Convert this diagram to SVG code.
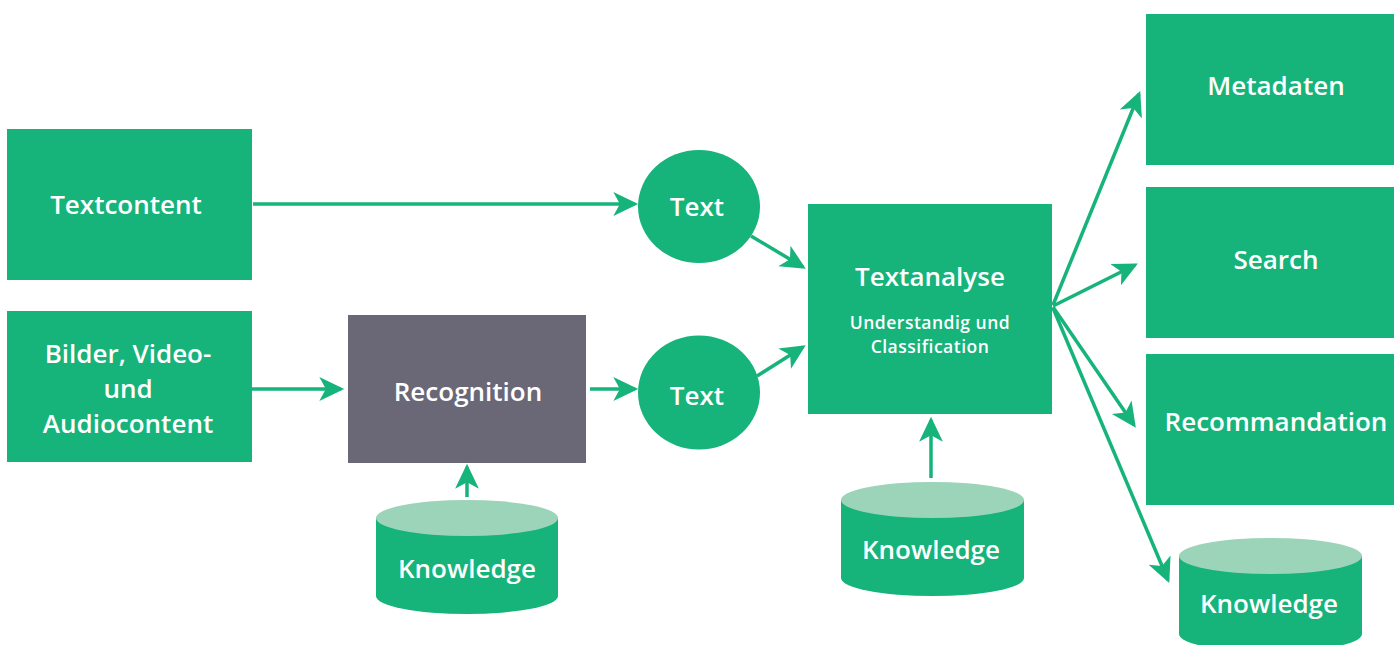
<svg xmlns="http://www.w3.org/2000/svg" width="1394" height="645" viewBox="0 0 1394 645">
  <style>
    .box { fill: #16b37b; }
    .proc { fill: #6a6876; }
    .top { fill: #9bd4b8; }
    .lbl { fill: #ffffff; font-family: "Open Sans", "Noto Sans", sans-serif; font-weight: 600; font-size: 26px; text-anchor: middle; }
    .sub { font-size: 17.5px; letter-spacing: 0.5px; }
    .edge { stroke: #16b37b; stroke-width: 3.5; fill: none; marker-end: url(#arrow); }
  </style>
  <defs>
    <marker id="arrow" markerUnits="userSpaceOnUse" markerWidth="26" markerHeight="26" viewBox="0 0 24 24" refX="20" refY="12" orient="auto">
      <path d="M0,1 L23,12 L0,23 L6,12 z" fill="#16b37b"/>
    </marker>
  </defs>

  <g id="connectors">
    <line class="edge" x1="253" y1="204" x2="635" y2="204"/>
    <line class="edge" x1="252" y1="389" x2="341" y2="389"/>
    <line class="edge" x1="590" y1="389" x2="635" y2="389"/>
    <line class="edge" x1="751" y1="236" x2="803" y2="267"/>
    <line class="edge" x1="757" y1="376" x2="803" y2="347"/>
    <line class="edge" x1="931" y1="478" x2="931" y2="420"/>
    <line class="edge" x1="467" y1="497" x2="467" y2="467"/>
    <line class="edge" x1="1053" y1="305" x2="1139" y2="94"/>
    <line class="edge" x1="1053" y1="306" x2="1135" y2="265"/>
    <line class="edge" x1="1053" y1="307" x2="1134" y2="425"/>
    <line class="edge" x1="1053" y1="308" x2="1168" y2="580"/>
  </g>

  <g id="textcontent">
    <rect class="box" x="7" y="129" width="245" height="151"/>
    <text class="lbl" x="126" y="214">Textcontent</text>
  </g>

  <g id="media">
    <rect class="box" x="7" y="311" width="245" height="151"/>
    <text class="lbl" x="128" y="363">Bilder, Video-</text>
    <text class="lbl" x="128" y="398">und</text>
    <text class="lbl" x="128" y="433">Audiocontent</text>
  </g>

  <g id="recognition">
    <rect class="proc" x="348" y="315" width="238" height="148"/>
    <text class="lbl" x="468" y="401">Recognition</text>
  </g>

  <g id="text-1">
    <ellipse class="box" cx="699" cy="206.5" rx="61" ry="56.5"/>
    <text class="lbl" x="697" y="216">Text</text>
  </g>

  <g id="text-2">
    <ellipse class="box" cx="699" cy="392.5" rx="61" ry="57"/>
    <text class="lbl" x="697" y="405">Text</text>
  </g>

  <g id="textanalyse">
    <rect class="box" x="808" y="204" width="244" height="210"/>
    <text class="lbl" x="930" y="286">Textanalyse</text>
    <text class="lbl sub" x="930" y="329">Understandig und</text>
    <text class="lbl sub" x="930" y="353">Classification</text>
  </g>

  <g id="metadaten">
    <rect class="box" x="1146" y="14" width="248" height="151"/>
    <text class="lbl" x="1276" y="95">Metadaten</text>
  </g>

  <g id="search">
    <rect class="box" x="1146" y="187" width="248" height="151"/>
    <text class="lbl" x="1276" y="269">Search</text>
  </g>

  <g id="recommandation">
    <rect class="box" x="1146" y="354" width="248" height="151"/>
    <text class="lbl" x="1276" y="431">Recommandation</text>
  </g>

  <g id="knowledge-1">
    <path class="box" d="M376,518 V596 A91,18 0 0 0 558,596 V518 z"/>
    <ellipse class="top" cx="467" cy="518" rx="91" ry="18"/>
    <text class="lbl" x="467" y="578">Knowledge</text>
  </g>

  <g id="knowledge-2">
    <path class="box" d="M841,500 V578 A91.5,18 0 0 0 1024,578 V500 z"/>
    <ellipse class="top" cx="932.5" cy="500" rx="91.5" ry="18"/>
    <text class="lbl" x="931" y="559">Knowledge</text>
  </g>

  <g id="knowledge-3">
    <path class="box" d="M1179,556 V634 A91.5,18 0 0 0 1362,634 V556 z"/>
    <ellipse class="top" cx="1270.5" cy="556" rx="91.5" ry="18"/>
    <text class="lbl" x="1269" y="613">Knowledge</text>
  </g>
</svg>
